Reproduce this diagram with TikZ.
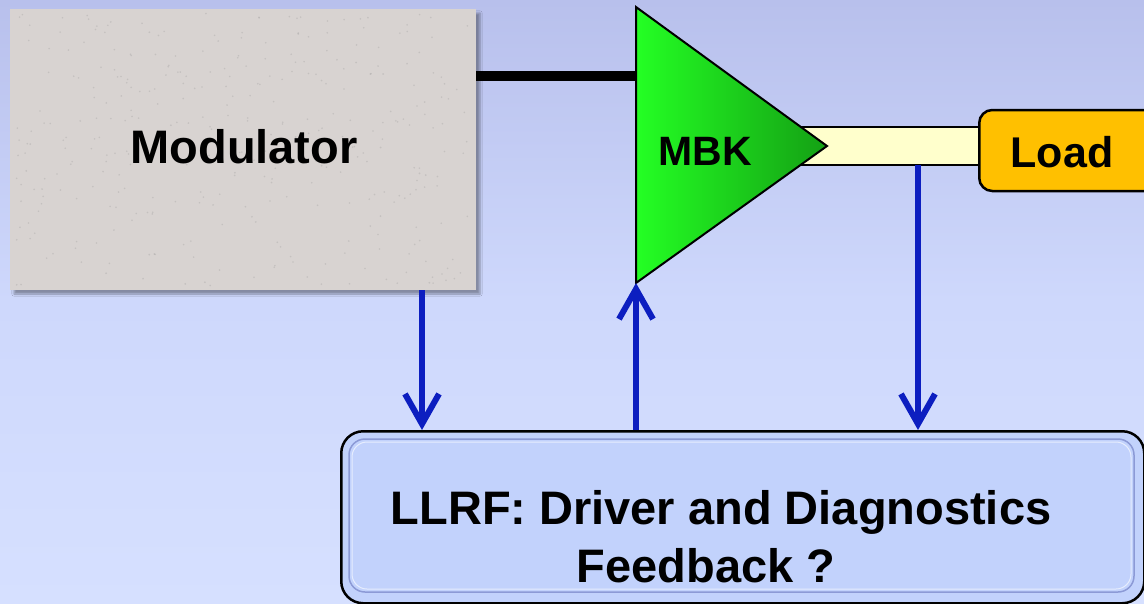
\documentclass[tikz,border=0pt]{standalone}
\usepackage{fontspec}
\setmainfont{Liberation Sans}
\usetikzlibrary{arrows.meta,shadows.blur}
\definecolor{bgtop}{RGB}{184,192,236}
\definecolor{bgmid}{RGB}{206,216,252}
\definecolor{bgbot}{RGB}{214,224,255}
\definecolor{modfill}{RGB}{216,211,209}
\definecolor{arrowblue}{RGB}{12,30,192}
\definecolor{greenL}{RGB}{36,255,36}
\definecolor{greenR}{RGB}{20,160,20}
\definecolor{lineyellow}{RGB}{255,255,204}
\definecolor{loadorange}{RGB}{255,192,0}
\definecolor{llrffill}{RGB}{194,210,252}
\definecolor{bevel}{RGB}{140,154,214}
\begin{document}
\begin{tikzpicture}[x=1pt,y=-1pt,
  lbl/.style={font=\bfseries\fontsize{47}{58}\selectfont, text=black, inner sep=0pt, anchor=base},
  sig/.style={draw=arrowblue, line width=6pt, -{Straight Barb[length=30pt,width=34pt]}},
  boxline/.style={draw=black, line width=2.5pt}]
\useasboundingbox (0,0) rectangle (1144,603);
\clip (0,0) rectangle (1144,603);
% background
\shade[top color=bgtop, bottom color=bgbot, middle color=bgmid] (0,0) rectangle (1144,603);

% modulator
\node[fill=modfill, minimum width=466pt, minimum height=281pt, inner sep=0pt,
      blur shadow={shadow xshift=4pt, shadow yshift=-4pt, shadow opacity=35}] (mod) at (243,149.5) {};
\pgfmathsetseed{11}
\foreach \i in {1,...,350}{
  \fill[black!45, opacity=0.25] ({14+458*rnd},{13+273*rnd}) circle (0.9);
}
\node[lbl] (modtxt) at (244,163) {Modulator};

% coordinates
\coordinate (tL) at (636,7);
\coordinate (bL) at (636,283);
\coordinate (tip) at (827,146);
\coordinate (hvin) at (636,76);
\coordinate (tap) at (918,165);
\coordinate (a1x) at (422,0);

% HV line
\draw[line width=10pt] (hvin -| mod.east) -- (hvin);

% waveguide strip
\draw[fill=lineyellow, line width=2pt] (780,127) rectangle (982,165);

% load
\node[boxline, fill=loadorange, rounded corners=13pt, minimum width=190pt, minimum height=81pt,
      anchor=west, inner sep=0pt] (load) at (978,150.5) {};
\node[lbl, font=\bfseries\fontsize{43}{52}\selectfont] (loadtxt) at (1062,167) {Load};

% klystron triangle
\shadedraw[left color=greenL, right color=greenR, draw=black, line width=2pt, line join=miter]
  (tL) -- (tip) -- (bL) -- cycle;
\node[lbl, font=\bfseries\fontsize{41}{50}\selectfont] (mbk) at (705,165) {MBK};

% LLRF box
\node[boxline, fill=llrffill, rounded corners=22pt, minimum width=803pt, minimum height=172pt,
      anchor=north west, inner sep=0pt] (llrf) at (340,430) {};
\draw[bevel, line width=1.5pt, rounded corners=16pt] (349,439) rectangle (1134,592);
\draw[white, opacity=0.6, line width=1pt, rounded corners=15pt] (352,442) rectangle (1131,589);
\node[lbl] (llrf1) at (721,524) {LLRF: Driver and Diagnostics};
\node[lbl] (llrf2) at (706,582) {Feedback ?};

% signals
\draw[sig] (mod.south -| a1x) -- (llrf.north -| a1x);
\draw[sig] (llrf.north -| bL) -- (bL);
\draw[sig] (tap) -- (llrf.north -| tap);
\end{tikzpicture}
\end{document}
